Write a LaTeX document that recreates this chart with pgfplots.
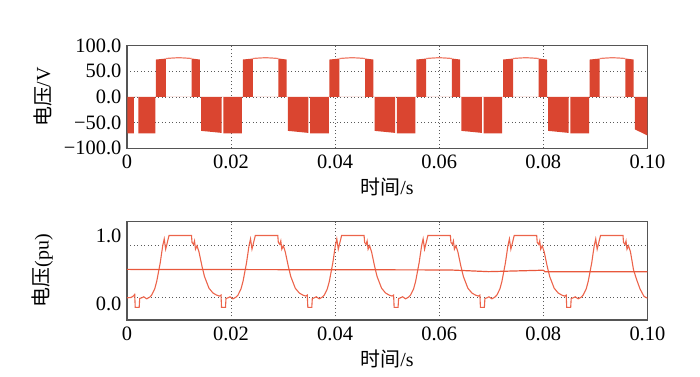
\documentclass[border=0pt]{standalone}
\usepackage{fontspec}
\setmainfont{Liberation Serif}
\newfontfamily\cjk{Noto Sans CJK SC}
\usepackage{pgfplots}
\pgfplotsset{compat=1.18}
\definecolor{wfill}{RGB}{218,69,48}
\definecolor{wline}{RGB}{240,125,105}
\definecolor{ccurve}{RGB}{236,100,75}
\definecolor{cconst}{RGB}{232,88,60}
\definecolor{framec}{RGB}{85,85,85}
\definecolor{gridc}{RGB}{90,90,90}
\begin{document}
\begin{tikzpicture}
\useasboundingbox (0,0) rectangle (700bp,377bp);
\pgfplotsset{
 myax/.style={scale only axis, width=520.5bp, xmin=0, xmax=0.1,
  axis line style={draw=framec, line width=1.2bp},
  tick style={draw=none}, major tick length=0pt,
  xtick={0,0.02,0.04,0.06,0.08,0.1},
  xticklabels={0,0.02,0.04,0.06,0.08,0.10},
  xmajorgrids,
  grid style={dash pattern=on 1bp off 2.5bp, gridc, line width=0.9bp},
  tick label style={font=\fontsize{20.5}{24}\selectfont},
  xticklabel style={yshift=-3bp},
  yticklabel style={xshift=-2bp},
  xlabel={{\cjk 时间}/s},
  every axis x label/.style={at={(rel axis cs:0.5,0)}, anchor=center, yshift=-39bp, font=\fontsize{20}{24}\selectfont},
  every axis y label/.style={at={(rel axis cs:-0.1622,0.5)}, anchor=center, rotate=90, font=\fontsize{20}{24}\selectfont},
 }
}
\begin{axis}[myax, at={(126.9bp,228.7bp)}, anchor=south west, height=102.6bp,
  ymin=-100, ymax=100, ytick={-100,-50,0,50,100},
  yticklabels={−100.0,−50.0,0.0,50.0,100.0}, ymajorgrids,
  ylabel={{\cjk 电压}/V}]
\addplot[fill=wfill, draw=none] coordinates {
(0,0) (0.00008,0)(0.00008,-71)(0.00136,-71)(0.00136,0)
(0.00219,0)(0.00219,-71)(0.00548,-71)(0.00548,0)
(0.00559,0)(0.00559,73)(0.00751,75)(0.00751,0)(0.01245,0)(0.01245,75)(0.01404,73)(0.01404,0)(0.01424,0)(0.01424,-66)(0.01821,-70)(0.01821,0)(0.01852,0)(0.01852,-71)(0.02211,-71)(0.02211,0)
(0.02226,0)(0.02226,73)(0.02418,75)(0.02418,0)(0.02912,0)(0.02912,75)(0.03071,73)(0.03071,0)(0.03091,0)(0.03091,-66)(0.03488,-70)(0.03488,0)(0.03519,0)(0.03519,-71)(0.03878,-71)(0.03878,0)
(0.03892,0)(0.03892,73)(0.04084,75)(0.04084,0)(0.04578,0)(0.04578,75)(0.04737,73)(0.04737,0)(0.04757,0)(0.04757,-66)(0.05154,-70)(0.05154,0)(0.05185,0)(0.05185,-71)(0.05544,-71)(0.05544,0)
(0.05559,0)(0.05559,73)(0.05751,75)(0.05751,0)(0.06245,0)(0.06245,75)(0.06404,73)(0.06404,0)(0.06424,0)(0.06424,-66)(0.06821,-70)(0.06821,0)(0.06852,0)(0.06852,-71)(0.07211,-71)(0.07211,0)
(0.07226,0)(0.07226,73)(0.07418,75)(0.07418,0)(0.07912,0)(0.07912,75)(0.08071,73)(0.08071,0)(0.08091,0)(0.08091,-66)(0.08488,-70)(0.08488,0)(0.08519,0)(0.08519,-71)(0.08878,-71)(0.08878,0)
(0.08892,0)(0.08892,73)(0.09084,75)(0.09084,0)(0.09578,0)(0.09578,75)(0.09737,73)(0.09737,0)(0.09757,0)(0.09757,-63)(0.1,-75)(0.1,0)
};
\addplot[wline, line width=1.2bp, smooth, unbounded coords=jump] table {
x y
0.00751 75
0.00998 76.5
0.01245 75
0.01246 nan
0.02418 75
0.02665 76.5
0.02912 75
0.02913 nan
0.04084 75
0.04331 76.5
0.04578 75
0.04579 nan
0.05751 75
0.05998 76.5
0.06245 75
0.06246 nan
0.07418 75
0.07665 76.5
0.07912 75
0.07913 nan
0.09084 75
0.09331 76.5
0.09578 75
};
\end{axis}
\begin{axis}[myax, at={(126.9bp,57bp)}, anchor=south west, height=98.3bp,
  ymin=-0.234, ymax=1.2015, ytick={0,1}, yticklabels={0.0,1.0},
  extra y ticks={0.09,0.86}, extra y tick labels={},
  extra y tick style={grid=major},
  ylabel={{\cjk 电压}(pu)}]
\addplot[ccurve, line width=1.1bp] table {
x y
0 0.09
0.0008 0.095
0.0013 0.12
0.00150 0.14
0.00160 -0.05
0.00236 -0.05
0.00246 0.08
0.00285 0.09
0.00323 0.105
0.00380 0.075
0.00438 0.10
0.00476 0.13
0.00534 0.22
0.00573 0.33
0.00640 0.60
0.00688 0.85
0.00717 0.95
0.00745 0.80
0.00774 0.89
0.00809 1.00
0.01241 1.00
0.01251 0.90
0.01280 0.87
0.01299 0.92
0.01318 0.80
0.01347 0.85
0.01385 0.76
0.01443 0.55
0.01491 0.40
0.01577 0.23
0.01654 0.16
0.01722 0.13
0.01779 0.115
0.01808 0.13
0.01818 -0.05
0.01894 -0.05
0.01904 0.08
0.01943 0.09
0.01981 0.105
0.02038 0.075
0.02096 0.10
0.02134 0.13
0.02192 0.22
0.02231 0.33
0.02298 0.60
0.02346 0.85
0.02375 0.95
0.02403 0.80
0.02432 0.89
0.02467 1.00
0.02899 1.00
0.02909 0.90
0.02938 0.87
0.02957 0.92
0.02976 0.80
0.03005 0.85
0.03043 0.76
0.03101 0.55
0.03149 0.40
0.03235 0.23
0.03312 0.16
0.03380 0.13
0.03437 0.115
0.03466 0.13
0.03476 -0.05
0.03552 -0.05
0.03562 0.08
0.03601 0.09
0.03639 0.105
0.03696 0.075
0.03754 0.10
0.03792 0.13
0.03850 0.22
0.03889 0.33
0.03956 0.60
0.04004 0.85
0.04033 0.95
0.04061 0.80
0.04090 0.89
0.04125 1.00
0.04557 1.00
0.04567 0.90
0.04596 0.87
0.04615 0.92
0.04634 0.80
0.04663 0.85
0.04701 0.76
0.04759 0.55
0.04807 0.40
0.04893 0.23
0.04970 0.16
0.05038 0.13
0.05095 0.115
0.05124 0.13
0.05134 -0.05
0.05210 -0.05
0.05220 0.08
0.05259 0.09
0.05297 0.105
0.05354 0.075
0.05412 0.10
0.05450 0.13
0.05508 0.22
0.05547 0.33
0.05614 0.60
0.05662 0.85
0.05691 0.95
0.05719 0.80
0.05748 0.89
0.05783 1.00
0.06215 1.00
0.06225 0.90
0.06254 0.87
0.06273 0.92
0.06292 0.80
0.06321 0.85
0.06359 0.76
0.06417 0.55
0.06465 0.40
0.06551 0.23
0.06628 0.16
0.06696 0.13
0.06753 0.115
0.06782 0.13
0.06792 -0.05
0.06868 -0.05
0.06878 0.08
0.06917 0.09
0.06955 0.105
0.07012 0.075
0.07070 0.10
0.07108 0.13
0.07166 0.22
0.07205 0.33
0.07272 0.60
0.07320 0.85
0.07349 0.95
0.07377 0.80
0.07406 0.89
0.07441 1.00
0.07873 1.00
0.07883 0.90
0.07912 0.87
0.07931 0.92
0.07950 0.80
0.07979 0.85
0.08017 0.76
0.08075 0.55
0.08123 0.40
0.08209 0.23
0.08286 0.16
0.08354 0.13
0.08411 0.115
0.08440 0.13
0.08450 -0.05
0.08526 -0.05
0.08536 0.08
0.08575 0.09
0.08613 0.105
0.08670 0.075
0.08728 0.10
0.08766 0.13
0.08824 0.22
0.08863 0.33
0.08930 0.60
0.08978 0.85
0.09007 0.95
0.09035 0.80
0.09064 0.89
0.09099 1.00
0.09531 1.00
0.09541 0.90
0.09570 0.87
0.09589 0.92
0.09608 0.80
0.09637 0.85
0.09675 0.76
0.09733 0.50
0.09791 0.36
0.09858 0.22
0.09935 0.11
0.10000 0.085
};
\addplot[cconst, line width=1.2bp] table {
x y
0 0.505
0.062 0.497
0.0695 0.472
0.0800 0.493
0.0803 0.472
0.1 0.470
};
\end{axis}
\end{tikzpicture}
\end{document}
